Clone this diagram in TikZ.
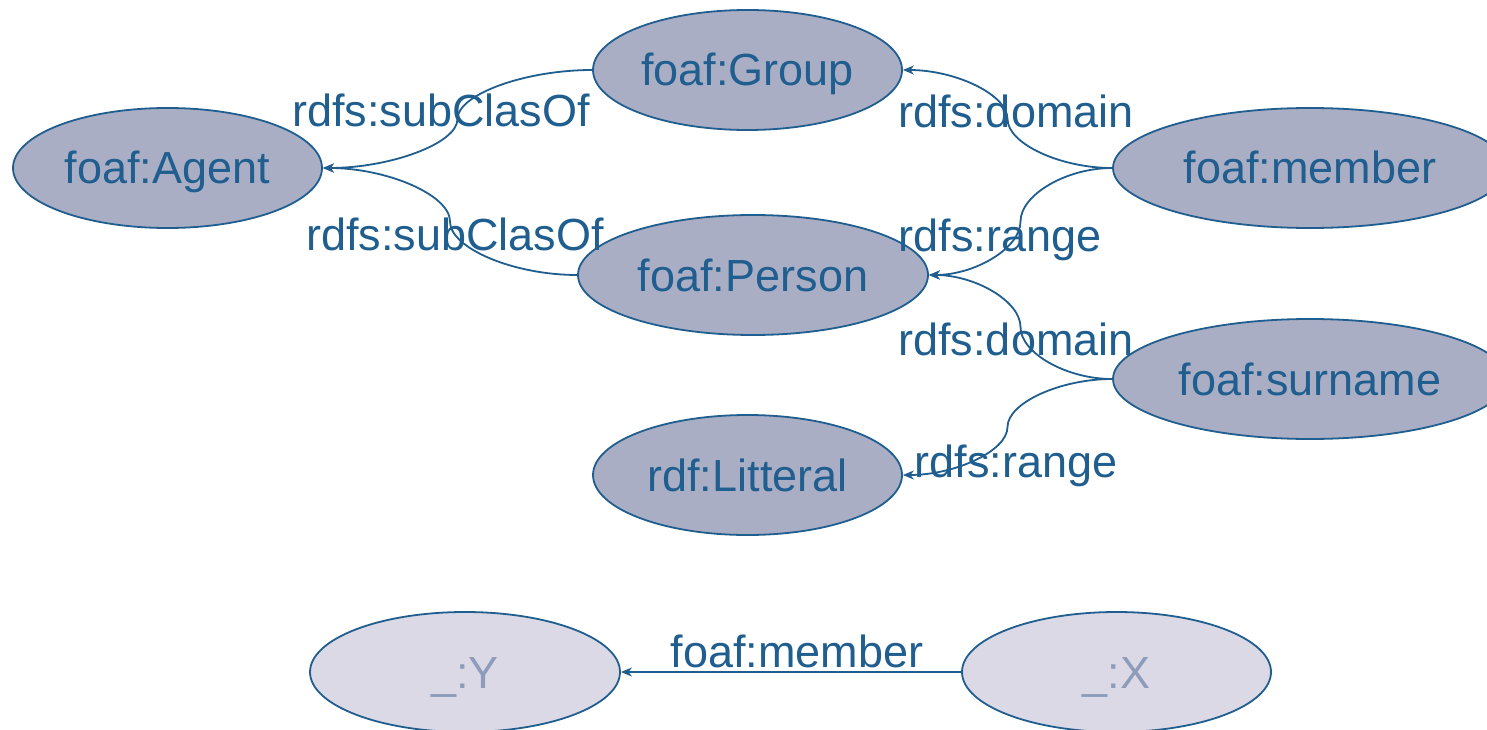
\documentclass[tikz,border=0pt]{standalone}
\usepackage{fontspec}
\setmainfont{Liberation Sans}
\usetikzlibrary{shapes.geometric,arrows.meta,calc}
\definecolor{edgeblue}{HTML}{1F5E8E}
\definecolor{darkfill}{HTML}{A9AEC5}
\definecolor{lightfill}{HTML}{DBD9E5}
\definecolor{lighttext}{HTML}{8E9CBB}
\newcommand\sconn[2]{%
  \draw[rel] let \p1=(#1.west), \p2=(#2.east) in
    (\p1) .. controls ({0.75*\x1+0.25*\x2},\y1) and ({0.5*\x1+0.5*\x2},{0.75*\y1+0.25*\y2})
    .. ({0.5*\x1+0.5*\x2},{0.5*\y1+0.5*\y2})
    .. controls ({0.5*\x1+0.5*\x2},{0.25*\y1+0.75*\y2}) and ({0.25*\x1+0.75*\x2},\y2)
    .. (\p2);}
\begin{document}
\begin{tikzpicture}[x=1pt,y=-1pt,
  cls/.style={ellipse, draw=edgeblue, line width=1.8pt, fill=darkfill, text=edgeblue,
    inner sep=0pt, minimum height=120pt, font=\fontsize{45}{54}\selectfont,
    text height=32pt, text depth=0pt},
  blank/.style={cls, fill=lightfill, text=lighttext},
  rel/.style={draw=edgeblue, line width=1.8pt, -{Stealth[length=11pt,width=9pt]}},
  lbl/.style={text=edgeblue, font=\fontsize{45}{54}\selectfont, inner sep=0pt, anchor=base}
]
\useasboundingbox (0,0) rectangle (1487,730);
\clip (0,0) rectangle (1487,730);

\node[cls, minimum width=309pt] (group) at (747.5,70) {foaf:Group};
\node[cls, minimum width=309pt] (agent) at (167.5,168) {foaf:Agent};
\node[cls, minimum width=394pt] (member) at (1310,168) {foaf:member};
\node[cls, minimum width=350pt] (person) at (753,275) {foaf:Person};
\node[cls, minimum width=394pt] (surname) at (1310,379) {foaf:surname};
\node[cls, minimum width=309pt] (litteral) at (747.5,475) {rdf:Litteral};
\node[blank, minimum width=310pt] (y) at (465,672) {\_:Y};
\node[blank, minimum width=309pt] (x) at (1116.5,672) {\_:X};

\sconn{group}{agent}
\sconn{person}{agent}
\sconn{member}{group}
\sconn{member}{person}
\sconn{surname}{person}
\sconn{surname}{litteral}
\draw[rel] (x.west) -- (y.east);

\node[lbl] (l1) at (441,127) {rdfs:subClasOf};
\node[lbl] (l2) at (455,250) {rdfs:subClasOf};
\node[lbl] (l3) at (1016,128) {rdfs:domain};
\node[lbl] (l4) at (1000,251) {rdfs:range};
\node[lbl] (l5) at (1016,355) {rdfs:domain};
\node[lbl] (l6) at (1016,477) {rdfs:range};
\node[lbl] (l7) at (797,667) {foaf:member};
\end{tikzpicture}
\end{document}
